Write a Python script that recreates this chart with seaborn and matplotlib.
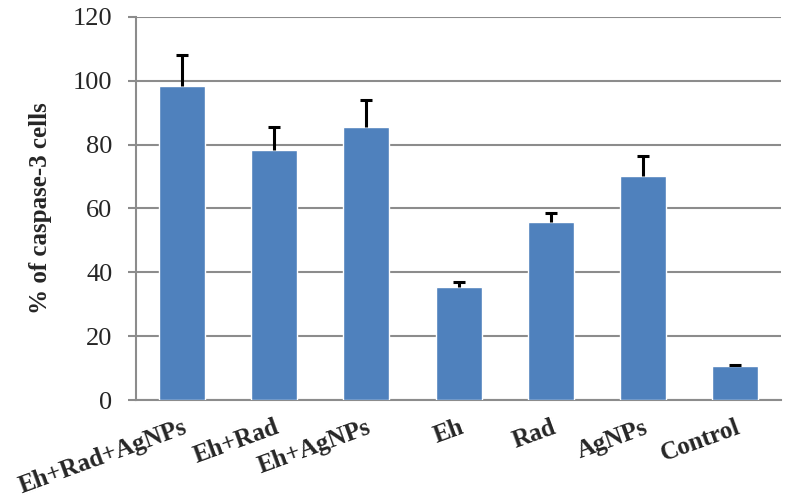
import matplotlib
matplotlib.use("Agg")
import matplotlib.pyplot as plt
import seaborn as sns
import pandas as pd
import numpy as np

categories = ["Eh+Rad+AgNPs", "Eh+Rad", "Eh+AgNPs", "Eh", "Rad", "AgNPs", "Control"]
values = [98.4, 78.4, 85.6, 35.4, 55.7, 70.2, 10.6]
errors = [9.7, 7.2, 8.3, 1.6, 2.9, 6.1, 0.4]
yticks = [0, 20, 40, 60, 80, 100, 120]

sns.set_style("white")
plt.rcParams['font.family'] = ['Liberation Serif', 'DejaVu Serif']

df = pd.DataFrame({"cat": categories, "val": values})

fig = plt.figure(figsize=(7.86, 4.97), dpi=100)
ax = fig.add_axes([0.173, 0.195, 0.821, 0.771])

sns.barplot(data=df, x="cat", y="val", color="#4F81BD", saturation=1, width=0.5, ax=ax, zorder=3)
x = np.arange(len(categories))
eb = ax.errorbar(x, values, yerr=[np.zeros(len(errors)), errors], fmt="none",
                 ecolor="black", elinewidth=2.2, capsize=4.5, capthick=2.2, zorder=4)
eb[1][0].set_visible(False)

ax.set_ylim(0, 120)
ax.set_xlim(-0.5, len(categories) - 0.5)
ax.set_yticks(yticks)
ax.yaxis.grid(True, color="#8c8c8c", linewidth=1.5, zorder=0)
ax.set_axisbelow(True)
for s in ["top", "right"]:
    ax.spines[s].set_visible(False)
for s in ["left", "bottom"]:
    ax.spines[s].set_color("#8c8c8c")
    ax.spines[s].set_linewidth(1.5)

ax.tick_params(axis="y", which="both", left=True, length=6, width=1.5, color="#8c8c8c",
               labelsize=19, pad=11)
ax.tick_params(axis="x", bottom=False, pad=8)
ax.set_xticks(x)
ax.set_xticklabels(categories, rotation=20, ha="right", rotation_mode="anchor",
                   fontsize=18, fontweight="bold")
ax.set_xlabel("")
ax.set_ylabel("% of caspase-3 cells", fontsize=18, fontweight="bold", labelpad=15)

fig.savefig("out.png", dpi=100)
